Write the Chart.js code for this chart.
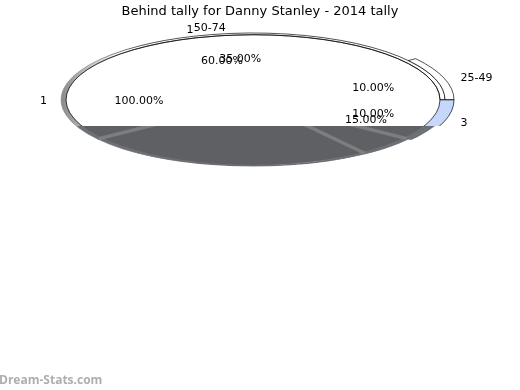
<!DOCTYPE html>
<html><head><meta charset="utf-8">
<style>html,body{margin:0;padding:0;background:#fff}#w{width:520px;height:390px;position:relative}</style>
<script src="https://cdn.jsdelivr.net/npm/chart.js@4"></script>
</head><body><div id="w"><canvas id="c" width="520" height="390"></canvas></div>
<script>
const titleText = "Behind tally for Danny Stanley - 2014 tally";
const watermark = "Dream-Stats.com";
const innerCategories = ["1"];
const innerValues = [100];
const midCategories = ["", "", "1"];
const midValues = [15, 25, 60];
const outerCategories = ["3", "", "50-74", "25-49"];
const outerValues = [10, 45, 35, 10];
const BLUE = "#c5d8fb";
const FONT = "DejaVu Sans";
const SQUASH = 0.348, RADIUS = 201, DISC_SHIFT = -7, LABEL_SHIFT = -1;

function pct(v){return v.toFixed(2)+"%";}

const tilt = {
  id:"tilt",
  beforeDatasetsDraw(chart){
    const a=chart.chartArea, cx=(a.left+a.right)/2, cy=(a.top+a.bottom)/2, c=chart.ctx;
    c.save(); c.translate(cx+DISC_SHIFT,cy); c.scale(1,SQUASH); c.translate(-cx,-cy);
  },
  afterDatasetsDraw(chart){
    const c=chart.ctx, a=chart.chartArea, cx=(a.left+a.right)/2+DISC_SHIFT, cy=(a.top+a.bottom)/2;
    const mid=chart.getDatasetMeta(1).data, outer=chart.getDatasetMeta(0).data;
    const rIn=mid[0].innerRadius, rOut=outer[0].outerRadius;
    const ax=(a.left+a.right)/2, start=mid[0].startAngle;
    // outlines of the rings and the start divider, in tilted space
    c.strokeStyle="#000"; c.lineWidth=1;
    c.beginPath(); c.arc(ax,cy,rIn,0,Math.PI*2); c.stroke();
    c.beginPath(); c.arc(ax,cy,rOut,outer[0].startAngle,outer[0].endAngle); c.stroke();
    c.lineWidth=1.6;
    c.beginPath(); c.moveTo(ax+Math.cos(start)*rIn,cy+Math.sin(start)*rIn);
    c.lineTo(ax+Math.cos(start)*rOut,cy+Math.sin(start)*rOut); c.stroke();
    c.restore();

    const floorY=126;
    c.save();
    c.save();
    c.beginPath(); c.rect(0,floorY,520,80);
    c.ellipse(cx,cy,198,192*SQUASH,0,0,Math.PI*2);
    c.clip("evenodd");
    c.clearRect(0,floorY,520,80);
    c.restore();
    c.globalCompositeOperation="source-atop";
    c.fillStyle="#6b6f73";
    c.fillRect(0,floorY,520,80);
    c.beginPath(); c.rect(0,floorY,520,80); c.clip();
    c.beginPath(); c.ellipse(cx,cy,rIn,rIn*SQUASH,0,0,Math.PI*2);
    c.fillStyle="#5e6064"; c.fill();
    const bounds=[mid[0].endAngle, mid[1].endAngle, outer[0].endAngle];
    c.strokeStyle="#7b7d80"; c.lineWidth=3.5;
    bounds.forEach(t=>{
      c.beginPath(); c.moveTo(cx,cy);
      c.lineTo(cx+Math.cos(t)*190, cy+Math.sin(t)*190*SQUASH); c.stroke();
    });
    c.restore();
  },
  afterDraw(chart){
    const c=chart.ctx, a=chart.chartArea, cx=(a.left+a.right)/2+LABEL_SHIFT, cy=(a.top+a.bottom)/2+1;
    c.save();
    c.fillStyle="#000"; c.font="11px '"+FONT+"'"; c.textAlign="center"; c.textBaseline="middle";
    const sets=[[outerCategories,outerValues,[true,false,true,true]],
                [midCategories,midValues,[true,false,true]],
                [innerCategories,innerValues,[true]]];
    sets.forEach(([cats,vals,show],d)=>{
      chart.getDatasetMeta(d).data.forEach((arc,i)=>{
        if(!show[i]) return;
        const t=(arc.startAngle+arc.endAngle)/2, co=Math.cos(t), si=Math.sin(t);
        c.fillText(pct(vals[i]), cx+co*120, cy+si*120*SQUASH);
        if(cats[i]){
          const w=c.measureText(cats[i]).width;
          c.fillText(cats[i], cx+co*212+Math.sign(co)*w/2, cy+si*212*SQUASH);
        }
      });
    });
    c.fillStyle="#aeaeae"; c.font="bold 12px 'Open Sans'"; c.textAlign="left"; c.textBaseline="alphabetic";
    c.fillText(watermark,-1,384);
    c.restore();
  }
};

const ctx=document.getElementById("c").getContext("2d");
const leftShade=ctx.createLinearGradient(68,0,130,0);
leftShade.addColorStop(0,"#8a8a8a");leftShade.addColorStop(0.5,"#c8c8c8");leftShade.addColorStop(1,"#fff");
const leftEdge=ctx.createLinearGradient(68,0,150,0);
leftEdge.addColorStop(0,"#8a8a8a");leftEdge.addColorStop(0.45,"#777");leftEdge.addColorStop(1,"#000");

new Chart(ctx,{
  type:"doughnut",
  data:{labels:outerCategories,datasets:[
    {data:outerValues,backgroundColor:[BLUE,"rgba(0,0,0,0)","rgba(0,0,0,0)","#fff"],borderColor:[BLUE,"rgba(0,0,0,0)","rgba(0,0,0,0)","#000"],borderWidth:1,weight:9},
    {data:midValues,backgroundColor:[BLUE,"#fff",leftShade],borderColor:[BLUE,"#000",leftEdge],borderWidth:1,weight:5},
    {data:innerValues,backgroundColor:["#fff"],borderWidth:0,weight:187}
  ]},
  options:{
    responsive:false,animation:false,rotation:90,cutout:0,radius:RADIUS,
    layout:{padding:{left:0,right:0,top:0,bottom:210}},
    plugins:{
      legend:{display:false},tooltip:{enabled:false},
      title:{display:true,text:titleText,color:"#000",font:{family:FONT,size:13,weight:"normal"},padding:{top:4,bottom:0}}
    }
  },
  plugins:[tilt]
});
</script></body></html>
